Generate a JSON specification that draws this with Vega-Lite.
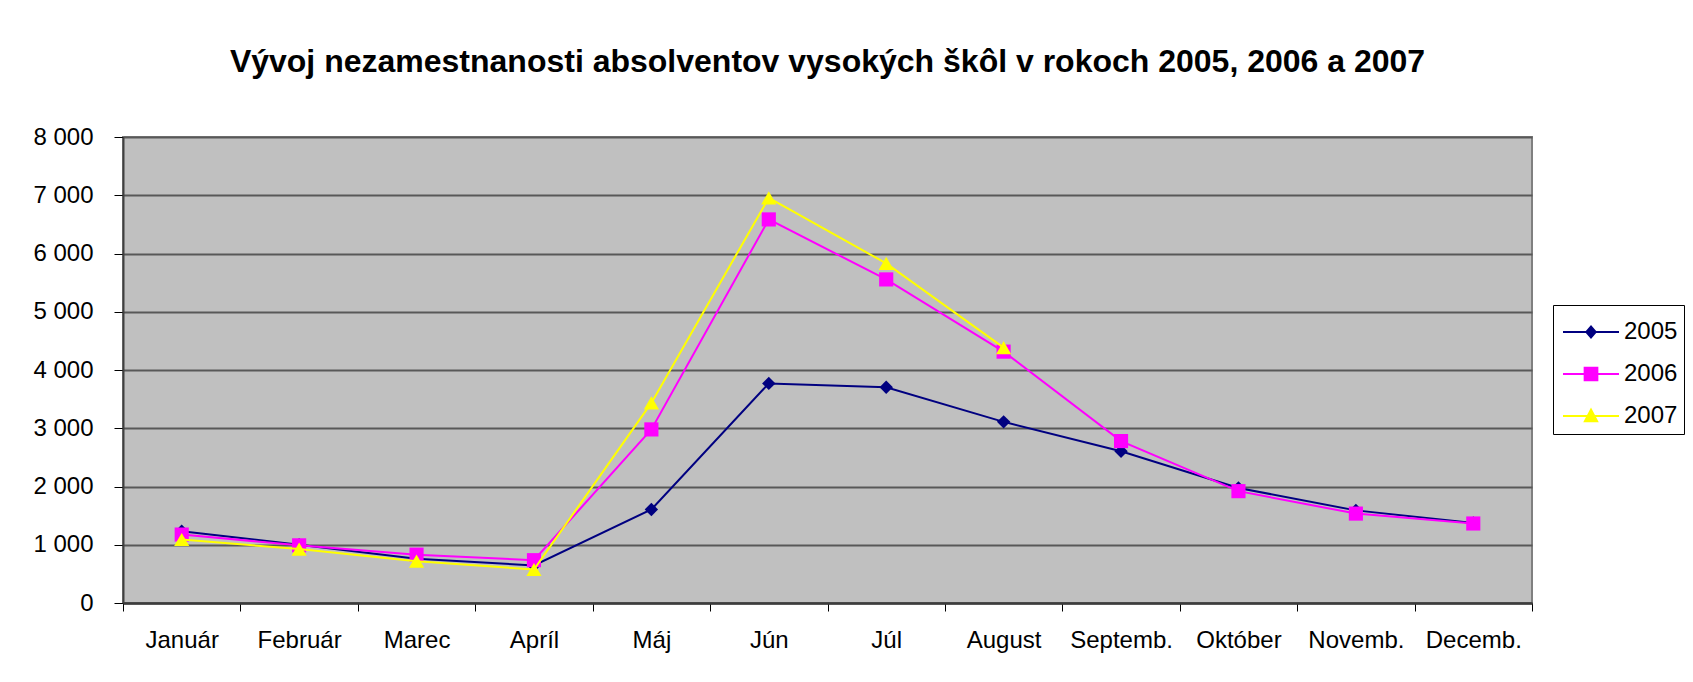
{
  "$schema": "https://vega.github.io/schema/vega-lite/v6.json",
  "width": 1409,
  "height": 466,
  "autosize": {"type": "none"},
  "padding": {"left": 123, "top": 137, "right": 161, "bottom": 79},
  "background": "white",
  "title": {
    "text": "Vývoj nezamestnanosti absolventov vysokých škôl v rokoch 2005, 2006 a 2007",
    "font": "Liberation Sans",
    "fontSize": 32,
    "fontWeight": "bold",
    "color": "black",
    "anchor": "middle",
    "frame": "group",
    "baseline": "alphabetic",
    "offset": 21
  },
  "data": {
    "values": [
      {"month": "Január", "year": "2005", "value": 1232},
      {"month": "Február", "year": "2005", "value": 1000},
      {"month": "Marec", "year": "2005", "value": 760},
      {"month": "Apríl", "year": "2005", "value": 645},
      {"month": "Máj", "year": "2005", "value": 1605},
      {"month": "Jún", "year": "2005", "value": 3770},
      {"month": "Júl", "year": "2005", "value": 3705},
      {"month": "August", "year": "2005", "value": 3110},
      {"month": "Septemb.", "year": "2005", "value": 2605},
      {"month": "Október", "year": "2005", "value": 1975},
      {"month": "Novemb.", "year": "2005", "value": 1590},
      {"month": "Decemb.", "year": "2005", "value": 1375},
      {"month": "Január", "year": "2006", "value": 1175},
      {"month": "Február", "year": "2006", "value": 990},
      {"month": "Marec", "year": "2006", "value": 830},
      {"month": "Apríl", "year": "2006", "value": 735},
      {"month": "Máj", "year": "2006", "value": 2980},
      {"month": "Jún", "year": "2006", "value": 6585},
      {"month": "Júl", "year": "2006", "value": 5555},
      {"month": "August", "year": "2006", "value": 4315},
      {"month": "Septemb.", "year": "2006", "value": 2780},
      {"month": "Október", "year": "2006", "value": 1920},
      {"month": "Novemb.", "year": "2006", "value": 1535},
      {"month": "Decemb.", "year": "2006", "value": 1365},
      {"month": "Január", "year": "2007", "value": 1090},
      {"month": "Február", "year": "2007", "value": 925},
      {"month": "Marec", "year": "2007", "value": 718},
      {"month": "Apríl", "year": "2007", "value": 575},
      {"month": "Máj", "year": "2007", "value": 3435},
      {"month": "Jún", "year": "2007", "value": 6955},
      {"month": "Júl", "year": "2007", "value": 5830},
      {"month": "August", "year": "2007", "value": 4385}
    ]
  },
  "encoding": {
    "x": {
      "field": "month",
      "type": "nominal",
      "sort": ["Január", "Február", "Marec", "Apríl", "Máj", "Jún", "Júl", "August", "Septemb.", "Október", "Novemb.", "Decemb."],
      "scale": {"type": "band", "paddingInner": 0, "paddingOuter": 0},
      "bandPosition": 0.5,
      "axis": {
        "title": null,
        "labelAngle": 0,
        "labelFont": "Liberation Sans",
        "labelFontSize": 24,
        "labelColor": "black",
        "labelPadding": 17,
        "tickBand": "extent",
        "tickColor": "black",
        "tickSize": 8,
        "tickWidth": 1,
        "domainColor": "#3c3c3c",
        "domainWidth": 2.5,
        "grid": false
      }
    },
    "y": {
      "field": "value",
      "type": "quantitative",
      "scale": {"domain": [0, 8000], "nice": false},
      "axis": {
        "title": null,
        "values": [0, 1000, 2000, 3000, 4000, 5000, 6000, 7000, 8000],
        "labelExpr": "replace(format(datum.value, ','), ',', ' ')",
        "labelFont": "Liberation Sans",
        "labelFontSize": 24,
        "labelColor": "black",
        "labelPadding": 21,
        "tickColor": "black",
        "tickSize": 9,
        "tickWidth": 1,
        "domainColor": "#404040",
        "domainWidth": 2,
        "grid": true,
        "gridColor": "#585858",
        "gridWidth": 2
      }
    }
  },
  "layer": [
    {
      "transform": [{"filter": "datum.year == '2005'"}],
      "mark": {"type": "line", "strokeWidth": 2, "color": "#000080"}
    },
    {
      "transform": [{"filter": "datum.year == '2005'"}],
      "mark": {"type": "point", "filled": true, "shape": "diamond", "size": 180, "opacity": 1, "strokeWidth": 0, "color": "#000080"}
    },
    {
      "transform": [{"filter": "datum.year == '2006'"}],
      "mark": {"type": "line", "strokeWidth": 2, "color": "#FF00FF"}
    },
    {
      "transform": [{"filter": "datum.year == '2006'"}],
      "mark": {"type": "point", "filled": true, "shape": "square", "size": 200, "opacity": 1, "strokeWidth": 0, "color": "#FF00FF"}
    },
    {
      "transform": [{"filter": "datum.year == '2007'"}],
      "mark": {"type": "line", "strokeWidth": 2, "color": "#FFFF00"}
    },
    {
      "transform": [{"filter": "datum.year == '2007'"}],
      "mark": {"type": "point", "filled": true, "shape": "triangle-up", "size": 230, "opacity": 1, "strokeWidth": 0, "color": "#FFFF00"}
    },
    {
      "mark": {"type": "point", "filled": true, "opacity": 0},
      "encoding": {
        "color": {
          "field": "year",
          "type": "nominal",
          "scale": {"domain": ["2005", "2006", "2007"], "range": ["#000080", "#FF00FF", "#FFFF00"]},
          "legend": {
            "title": null,
            "orient": "none",
            "legendX": 1430,
            "legendY": 168,
            "symbolSize": 1764,
            "symbolOpacity": 1,
            "labelFont": "Liberation Sans",
            "labelFontSize": 24,
            "labelColor": "black",
            "labelOffset": 23,
            "rowPadding": 9,
            "padding": 6,
            "strokeColor": "black",
            "fillColor": "white",
            "cornerRadius": 0,
            "symbolStrokeWidth": 0
          }
        },
        "shape": {
          "field": "year",
          "type": "nominal",
          "scale": {
            "domain": ["2005", "2006", "2007"],
            "range": [
              "M-0.809,-0.048H1.857V0.048H-0.809Z M0.524,-0.33L0.81,0L0.524,0.33L0.238,0Z",
              "M-0.809,-0.048H1.857V0.048H-0.809Z M0.174,-0.35H0.874V0.35H0.174Z",
              "M-0.809,-0.048H1.857V0.048H-0.809Z M0.524,-0.41L0.894,0.3L0.154,0.3Z"
            ]
          },
          "legend": {
            "title": null,
            "orient": "none",
            "legendX": 1430,
            "legendY": 168,
            "symbolSize": 1764,
            "symbolOpacity": 1,
            "labelFont": "Liberation Sans",
            "labelFontSize": 24,
            "labelColor": "black",
            "labelOffset": 23,
            "rowPadding": 9,
            "padding": 6,
            "strokeColor": "black",
            "fillColor": "white",
            "cornerRadius": 0,
            "symbolStrokeWidth": 0
          }
        }
      }
    }
  ],
  "config": {
    "view": {"fill": "#C0C0C0", "stroke": "#808080", "strokeWidth": 2}
  }
}
